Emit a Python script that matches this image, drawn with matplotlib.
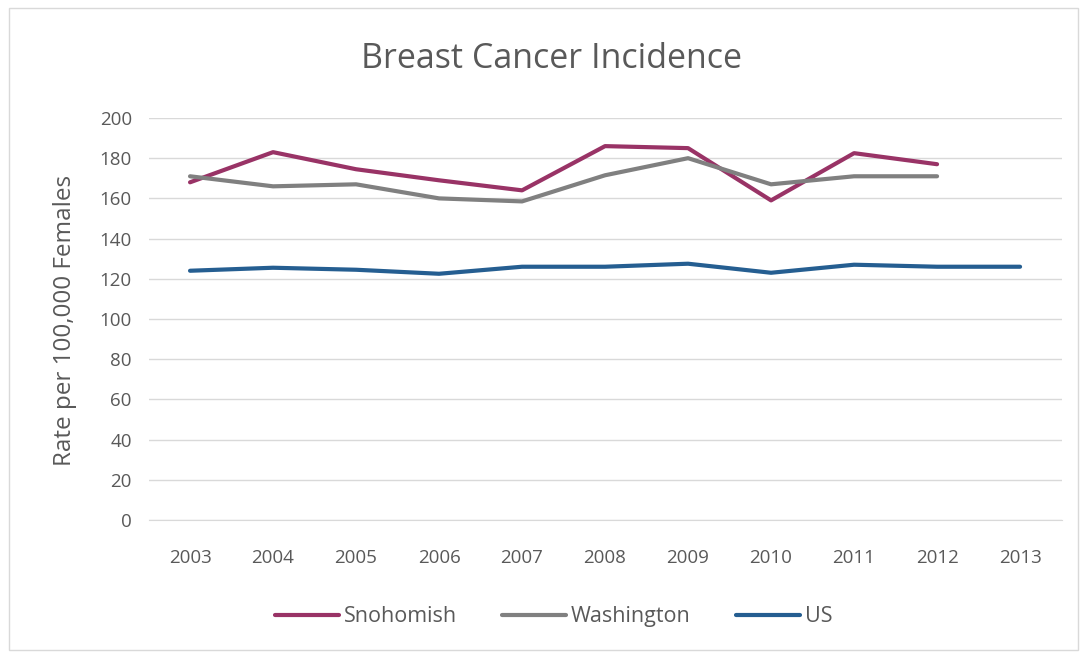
import matplotlib.pyplot as plt
from matplotlib.patches import Rectangle

plt.rcParams['font.family'] = ['Open Sans', 'DejaVu Sans']

# Datos
years = [2003, 2004, 2005, 2006, 2007, 2008, 2009, 2010, 2011, 2012, 2013]
snohomish = [168, 183, 174.5, 169, 164, 186, 185, 159, 182.5, 177, None]
washington = [171, 166, 167, 160, 158.5, 171.5, 180, 167, 171, 171, None]
us = [124, 125.5, 124.5, 122.5, 126, 126, 127.5, 123, 127, 126, 126]

text_color = '#595959'

fig = plt.figure(figsize=(10.85, 6.58), dpi=100)
ax = fig.add_axes([0.1369, 0.2097, 0.8415, 0.611])

x = list(range(len(years)))
sno = [float('nan') if v is None else v for v in snohomish]
wa = [float('nan') if v is None else v for v in washington]

ax.plot(x, sno, color='#993366', lw=3, label='Snohomish', solid_capstyle='round')
ax.plot(x, wa, color='#808080', lw=3, label='Washington', solid_capstyle='round')
ax.plot(x, us, color='#255E91', lw=3, label='US', solid_capstyle='round')

ax.set_xlim(-0.5, len(years) - 0.5)
ax.set_ylim(0, 200)
ax.set_yticks(range(0, 201, 20))
ax.set_xticks(x)
ax.set_xticklabels([str(y) for y in years])
ax.tick_params(axis='both', length=0, labelsize=13.5, labelcolor=text_color)
ax.tick_params(axis='y', pad=12)
ax.tick_params(axis='x', pad=21)
ax.grid(axis='y', color='#d9d9d9', lw=1)
ax.set_axisbelow(True)
for s in ['top', 'right', 'left']:
    ax.spines[s].set_visible(False)
ax.spines['bottom'].set_color('#d9d9d9')

ax.set_ylabel('Rate per 100,000 Females', fontsize=17.5, color=text_color)
ax.yaxis.set_label_coords(-0.078, 0.4975)
fig.text(0.508, 0.91, 'Breast Cancer Incidence', ha='center', va='center',
         fontsize=24.5, color=text_color)

leg = fig.legend(loc='center', bbox_to_anchor=(0.51, 0.063), ncol=3, frameon=False,
                 fontsize=15.5, handlelength=3, handletextpad=0.2, columnspacing=2.1)
for t in leg.get_texts():
    t.set_color(text_color)

# marco exterior
fig.patches.append(Rectangle((0.008, 0.012), 0.986, 0.976, transform=fig.transFigure,
                             fill=False, edgecolor='#d9d9d9', lw=1))

plt.savefig('out.png', dpi=100)
